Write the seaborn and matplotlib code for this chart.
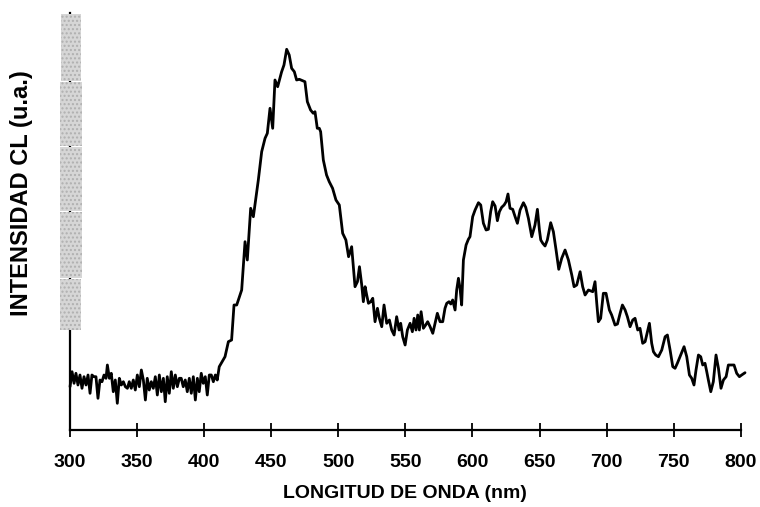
import matplotlib
matplotlib.use("Agg")
import matplotlib.pyplot as plt
from matplotlib.patches import Rectangle
import seaborn as sns

# CL spectrum (intensity in arbitrary units)
wavelength = [
    300.4, 301.9, 303.4, 304.8, 306.3, 307.8, 309.3, 310.8, 312.3, 313.8,
    315.3, 316.7, 318.2, 319.7, 321.2, 322.7, 324.2, 325.7, 327.2, 328.2,
    329.7, 331.1, 332.6, 334.1, 335.6, 337.1, 338.6, 340.1, 341.6, 343.1,
    344.5, 346.0, 347.5, 349.0, 350.5, 352.0, 353.5, 355.0, 356.5, 357.9,
    359.4, 360.9, 362.4, 363.9, 365.4, 366.9, 368.4, 369.9, 371.3, 372.8,
    374.3, 375.8, 377.3, 378.8, 380.3, 381.8, 383.2, 384.7, 386.2, 387.7,
    389.2, 390.7, 392.2, 393.7, 395.2, 396.6, 398.1, 399.6, 401.1, 402.6,
    404.1, 405.6, 407.1, 408.6, 410.0, 411.5,
    415.8, 418.3, 420.7, 422.5, 424.5, 428.2, 430.7, 432.4, 434.9, 436.9,
    440.6, 443.1, 445.6, 447.3, 449.3, 451.3, 453.0, 455.0,
    457.9, 459.7, 461.7, 463.6, 465.4, 467.4, 469.1, 471.1, 475.3, 477.1,
    479.5, 481.5, 482.8, 484.5, 486.0, 487.0, 489.0, 491.4, 493.4, 495.9,
    498.4, 500.9, 503.4, 505.8, 507.8,
    510.1, 512.6, 514.4, 515.9, 517.6, 518.8, 520.1, 521.3, 522.6, 524.3,
    525.8, 527.5, 529.3, 530.7, 532.5, 534.2, 536.2, 538.2, 539.9, 541.7,
    543.6, 545.4, 546.6, 548.1, 549.9, 551.6, 553.6, 555.3, 556.6, 558.0,
    559.3, 560.5, 561.8, 563.5, 565.2, 566.7, 568.5, 570.5, 572.2, 573.9,
    575.9, 577.9, 579.6, 580.9, 582.6, 583.9, 585.3, 587.1, 588.3, 589.6,
    590.8, 592.0,
    593.3, 595.3, 597.0, 598.2, 600.2, 602.0, 604.5, 606.2, 608.2, 610.2,
    611.9, 613.6, 615.1, 616.9, 618.6, 620.1, 621.8, 623.6, 625.1, 626.5,
    628.0, 630.0, 631.8, 633.5, 635.5, 638.0, 639.7, 641.7, 644.2, 646.6,
    648.4, 649.9, 650.9, 652.4, 654.1, 655.8, 658.3, 660.3, 662.3, 664.3,
    666.5, 669.0, 671.5, 674.0, 675.7, 677.7, 680.2, 682.1, 683.9, 686.4,
    689.6, 691.3, 692.6, 693.8, 695.5, 697.5, 699.5, 702.0, 703.7, 706.2,
    708.0, 710.0, 711.7, 713.7, 715.4, 717.4, 719.4, 721.1, 723.1, 724.8,
    726.8, 728.6, 730.3, 731.8, 733.5, 734.8, 736.5, 738.5, 741.0, 743.5,
    745.2, 747.2, 749.2, 750.9, 752.6, 755.1, 757.6, 759.6, 761.6, 763.3,
    765.0, 766.5, 768.3, 770.0, 771.5, 773.2, 774.5, 775.7, 777.5, 779.4,
    781.4, 783.2, 785.1, 786.9, 788.9, 790.6, 793.1, 794.8, 796.8, 798.8,
    800.5, 803.0,
]
intensity = [
    43.3, 58.3, 46.7, 56.7, 45.0, 55.0, 41.7, 53.3, 45.0, 55.0,
    36.7, 55.0, 53.3, 53.3, 31.7, 50.0, 48.3, 55.0, 51.7, 65.0,
    51.7, 56.7, 38.3, 50.0, 26.7, 51.7, 45.0, 48.3, 43.3, 41.7,
    48.3, 41.7, 50.0, 40.0, 55.0, 43.3, 60.0, 50.0, 30.0, 51.7,
    40.0, 48.3, 41.7, 53.3, 35.0, 55.0, 38.3, 51.7, 28.3, 53.3,
    36.7, 58.3, 41.7, 55.0, 43.3, 51.7, 51.7, 43.3, 50.0, 38.3,
    51.7, 36.7, 53.3, 30.0, 51.7, 38.3, 56.7, 46.7, 53.3, 35.0,
    55.0, 55.0, 48.3, 55.0, 50.0, 63.3,
    73.3, 88.3, 90.0, 125.0, 125.0, 140.0, 188.3, 170.0, 221.7, 213.3,
    250.0, 278.3, 291.7, 296.7, 321.7, 301.7, 350.0, 343.3,
    358.0, 365.0, 380.7, 375.0, 361.7, 358.3, 350.0, 350.7, 348.3, 328.3,
    320.0, 316.7, 318.3, 301.7, 301.7, 298.3, 270.0, 255.0, 248.3, 241.7,
    230.0, 225.0, 196.7, 190.0, 173.3,
    183.3, 143.3, 148.3, 163.3, 145.0, 128.3, 143.3, 135.0, 126.7, 128.3,
    131.7, 108.3, 121.7, 111.7, 103.3, 125.0, 106.7, 110.0, 100.0, 95.0,
    113.3, 100.0, 106.7, 93.3, 85.0, 100.0, 106.7, 98.3, 111.7, 100.0,
    115.0, 100.0, 118.3, 101.7, 105.0, 108.3, 103.3, 96.7, 106.7, 116.7,
    108.3, 108.3, 121.7, 126.7, 128.3, 126.0, 130.0, 120.0, 140.0, 151.7,
    141.7, 125.0,
    170.0, 185.0, 190.7, 193.3, 213.3, 220.0, 227.3, 225.0, 206.7, 200.0,
    200.7, 218.3, 228.3, 224.0, 209.3, 218.3, 222.7, 225.0, 228.3, 236.0,
    221.7, 220.7, 213.3, 206.7, 220.0, 227.3, 222.7, 211.7, 193.3, 205.0,
    220.7, 200.0, 190.0, 186.7, 184.0, 190.0, 207.3, 198.3, 180.0, 160.7,
    171.7, 180.0, 170.0, 155.0, 143.3, 145.0, 158.3, 143.3, 135.0, 140.0,
    138.3, 148.3, 126.7, 108.3, 111.7, 136.7, 136.7, 120.0, 115.0, 105.0,
    106.0, 116.7, 125.0, 120.0, 113.3, 103.3, 110.0, 111.7, 100.0, 101.7,
    86.7, 88.3, 98.3, 106.7, 86.7, 78.3, 75.0, 73.3, 80.0, 93.3,
    95.0, 80.0, 63.3, 61.7, 66.7, 75.0, 83.3, 73.3, 55.0, 51.7,
    45.0, 60.0, 75.0, 73.3, 65.0, 66.7, 58.3, 50.0, 38.3, 48.3,
    75.0, 61.7, 41.7, 50.0, 53.3, 65.0, 65.0, 65.0, 56.7, 53.3,
    55.0, 57.3,
]
x_ticks = [300, 350, 400, 450, 500, 550, 600, 650, 700, 750, 800]

sns.set_style("white")
plt.rcParams["font.family"] = ["Liberation Sans", "DejaVu Sans"]
plt.rcParams["text.color"] = "black"

fig = plt.figure(figsize=(7.6, 5.07), dpi=100)
W, H = 760, 507
ax = fig.add_axes([69.5 / W, 1 - 430 / H, (741 - 69.5) / W, (430 - 13) / H])

# grey stipple band left by the scanner along the y axis
for y0, y1, x0, x1 in [(13, 81, 61, 81), (81, 146, 60, 82), (146, 211, 60, 82),
                       (211, 278, 60, 82), (278, 330, 60, 81)]:
    fig.patches.append(Rectangle((x0 / W, 1 - y1 / H), (x1 - x0) / W, (y1 - y0 - 1) / H,
                                 transform=fig.transFigure, facecolor="#d6d6d6",
                                 edgecolor="#b0b0b0", hatch="....", linewidth=0,
                                 zorder=0))

sns.lineplot(x=wavelength, y=intensity, ax=ax, color="black", linewidth=2.0,
             sort=False, estimator=None)
for line in ax.get_lines():
    line.set_clip_on(False)

ax.set_xlim(300, 800)
ax.set_ylim(0, 417)
ax.set_xticks(x_ticks)
ax.set_yticks([])
ax.patch.set_alpha(0)
for side in ["top", "right"]:
    ax.spines[side].set_visible(False)
for side in ["left", "bottom"]:
    ax.spines[side].set_linewidth(1.6)
    ax.spines[side].set_color("black")
    ax.spines[side].set_zorder(3)
ax.tick_params(axis="x", direction="inout", length=10, width=1.3, pad=12,
               labelsize=14, bottom=True, colors="black")
for lbl in ax.get_xticklabels():
    lbl.set_fontweight("bold")

fig.text(405 / W, 1 - 493 / H, "LONGITUD DE ONDA (nm)", ha="center", va="center",
         fontsize=14, fontweight="bold")
fig.text(22 / W, 1 - 193 / H, "INTENSIDAD CL (u.a.)", ha="center", va="center",
         rotation=90, fontsize=17, fontweight="bold")

fig.savefig("out.png", dpi=100)
